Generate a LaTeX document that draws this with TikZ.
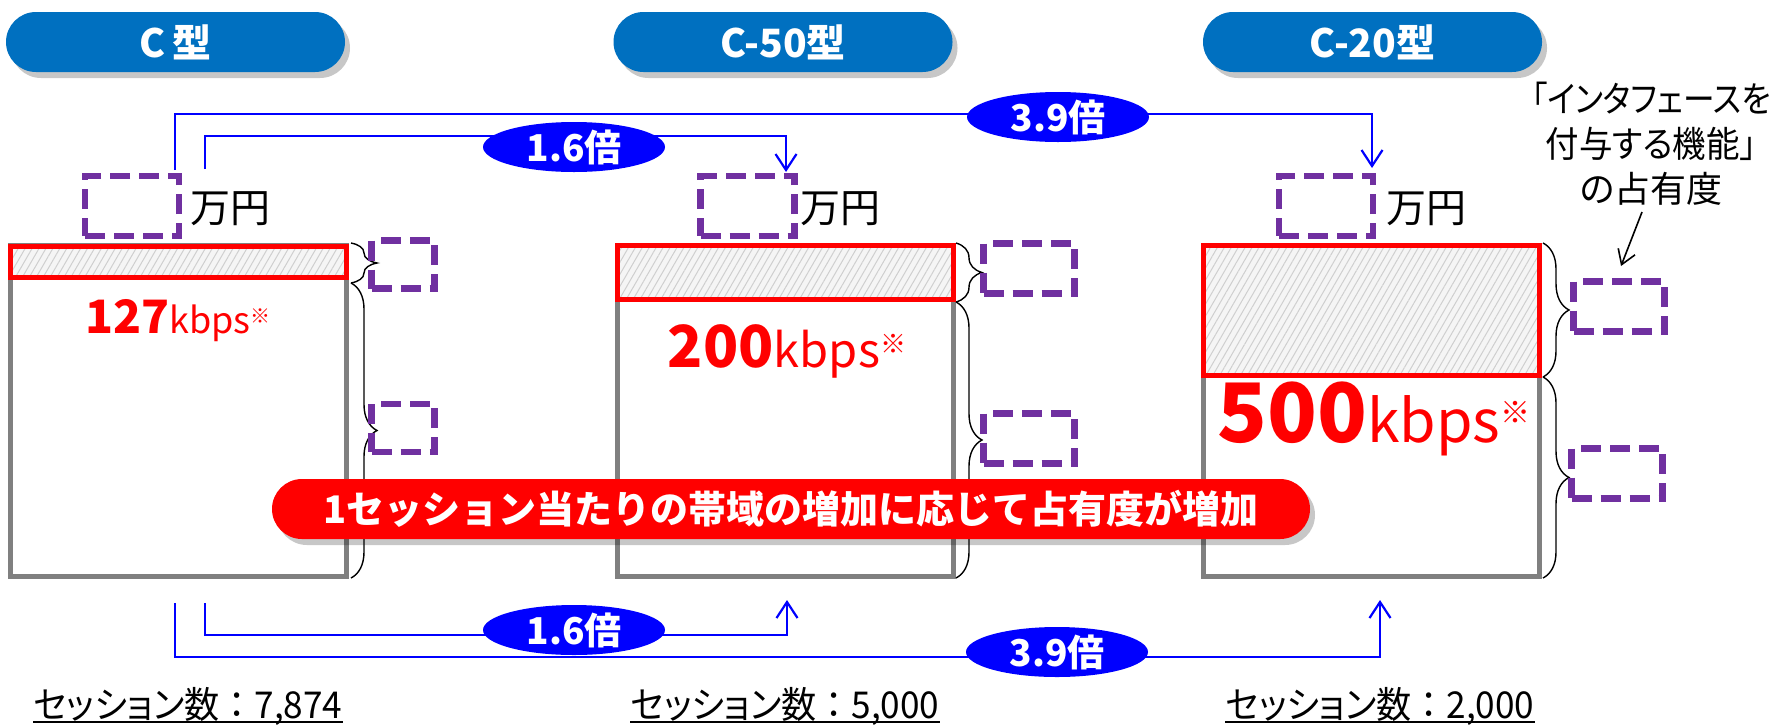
\documentclass[tikz,border=0pt]{standalone}
\usepackage{fontspec}
\setmainfont{Noto Sans CJK JP}
\newfontfamily\jpp{Noto Sans CJK JP}[RawFeature=+palt]
\usetikzlibrary{shapes.geometric,arrows.meta,patterns.meta,shadows,decorations.pathreplacing}
\definecolor{pillblue}{HTML}{0070C0}
\definecolor{pureblue}{HTML}{0000FF}
\definecolor{violetdash}{HTML}{7030A0}
\definecolor{boxgray}{HTML}{808080}
\definecolor{hatchbg}{HTML}{F5F5F5}
\definecolor{hatchline}{HTML}{CFCFCF}
\begin{document}
\begin{tikzpicture}[x=0.5pt,y=-0.5pt,
  pill/.style={fill=pillblue, rounded corners=15pt, minimum width=169.5pt, minimum height=30pt, inner sep=0pt, text=white, font=\bfseries\fontsize{19.5}{19.5}\selectfont, drop shadow={shadow xshift=2.5pt, shadow yshift=-3pt, fill=black, opacity=0.22}},
  frame/.style={draw=boxgray, line width=2.5pt, fill=white, inner sep=0pt, minimum width=168pt},
  occ/.style={draw=red, line width=2.5pt, preaction={fill=hatchbg}, pattern={Lines[angle=60,distance=3pt,line width=0.5pt]}, pattern color=hatchline, inner sep=0pt, minimum width=168pt},
  bracebar/.style={draw=black, line width=0.7pt, decorate, decoration={brace, amplitude=13pt}},
  pdash/.style={draw=violetdash, line width=3.2pt, dash pattern=on 10pt off 4.5pt, inner sep=0pt},
  ratio/.style={ellipse, fill=pureblue, text=white, font=\bfseries\fontsize{18.5}{18.5}\selectfont, minimum width=91pt, minimum height=25pt, inner sep=0pt},
  blueline/.style={draw=pureblue, line width=1.1pt},
  arr/.style={-{Straight Barb[length=8pt,width=10.5pt]}},
  yen/.style={anchor=base west, inner sep=0pt, font=\fontsize{20}{20}\selectfont},
  sess/.style={anchor=base west, inner sep=0pt, font=\fontsize{18.5}{18.5}\selectfont},
  banner/.style={fill=red, rounded corners=15pt, minimum width=519pt, minimum height=30pt, inner sep=0pt, text=white, font=\bfseries\fontsize{19}{19}\selectfont, drop shadow={shadow xshift=2.5pt, shadow yshift=-3pt, fill=black, opacity=0.22}},
  rate/.style={anchor=base, inner sep=0pt, text=red}
]
\useasboundingbox (0,0) rectangle (1770,724);
\fill[white] (0,0) rectangle (1770,724);

% title pills
\node[pill] (p1) at (175.5,42) {C\hspace{0.2em}型};
\node[pill] (p2) at (783,42) {C-50型};
\node[pill] (p3) at (1372.5,42) {C-20型};

% gray frames
\node[frame, minimum height=165.5pt] (f1) at (178.5,410.5) {};
\node[frame, minimum height=165.5pt] (f2) at (785,410.5) {};
\node[frame, minimum height=165.5pt] (f3) at (1371,410.5) {};

% occupancy rectangles
\node[occ, minimum height=15.5pt] (o1) at (178.5,261.5) {};
\node[occ, minimum height=27pt] (o2) at (785,272.5) {};
\node[occ, minimum height=65pt] (o3) at (1371,310.5) {};

% braces
\coordinate (b1a) at (351,243); \coordinate (b1b) at (351,283); \coordinate (b1c) at (351,578);
\coordinate (b2a) at (956,243); \coordinate (b2b) at (956,302); \coordinate (b2c) at (956,578);
\coordinate (b3a) at (1543,243); \coordinate (b3b) at (1543,377); \coordinate (b3c) at (1543,578);
\draw[bracebar] (b1a) -- (b1b);
\draw[bracebar] (b1b) -- (b1c);
\draw[bracebar] (b2a) -- (b2b);
\draw[bracebar] (b2b) -- (b2c);
\draw[bracebar] (b3a) -- (b3b);
\draw[bracebar] (b3b) -- (b3c);

% price boxes and yen
\node[pdash, minimum width=47pt, minimum height=30pt] (pr1) at (132,206) {};
\node[pdash, minimum width=47pt, minimum height=30pt] (pr2) at (747.5,206) {};
\node[pdash, minimum width=47pt, minimum height=30pt] (pr3) at (1326,206) {};
\node[yen] (y1) at (190,222) {万円};
\node[yen] (y2) at (800,222) {万円};
\node[yen] (y3) at (1386,222) {万円};

% small share boxes
\node[pdash, minimum width=31.5pt, minimum height=24pt] (s1a) at (403,264.5) {};
\node[pdash, minimum width=31.5pt, minimum height=24pt] (s1b) at (403,428) {};
\node[pdash, minimum width=45.5pt, minimum height=25pt] (s2a) at (1029,268.5) {};
\node[pdash, minimum width=45.5pt, minimum height=25pt] (s2b) at (1029,438.5) {};
\node[pdash, minimum width=45.5pt, minimum height=25pt] (s3a) at (1619,306.5) {};
\node[pdash, minimum width=45.5pt, minimum height=25pt] (s3b) at (1617,473.5) {};

% rates
\node[rate] (r1) at (178,333) {{\bfseries\fontsize{23}{23}\selectfont 127}{\fontsize{18}{18}\selectfont kbps}\raisebox{4.7pt}{\fontsize{10}{10}\selectfont ※}};
\node[rate] (r2) at (787,367) {{\bfseries\fontsize{29}{29}\selectfont 200}{\fontsize{23.5}{23.5}\selectfont kbps}\raisebox{7pt}{\fontsize{13}{13}\selectfont ※}};
\node[rate] (r3) at (1374,442) {{\bfseries\fontsize{41}{41}\selectfont 500}{\fontsize{29.5}{29.5}\selectfont kbps}\raisebox{9.3pt}{\fontsize{15}{15}\selectfont ※}};

% annotation
\node[align=center, anchor=north, inner sep=0pt, font=\jpp\fontsize{18}{22.5}\selectfont] (ann) at (1651,82) {\scalebox{0.88}[1]{「インタフェースを}\\\scalebox{0.93}[1]{付与する機能」}\\の占有度};
\coordinate (aa) at (1642,212);
\coordinate (ab) at (1621,266);
\draw[black, line width=0.8pt, -{Straight Barb[length=7pt,width=9pt]}] (aa) -- (ab);

% comparison connectors (top)
\coordinate (t1s) at (175,170); \coordinate (t1e) at (1372,168);
\coordinate (t2s) at (205,169); \coordinate (t2e) at (786,172);
\draw[blueline, arr] (t1s) -- ++(0,-56) -| (t1e);
\draw[blueline, arr] (t2s) -- ++(0,-33) -| (t2e);
\node[ratio] (e16t) at (574,147) {1.6倍};
\node[ratio] (e39t) at (1058,117) {3.9倍};

% comparison connectors (bottom)
\coordinate (u1s) at (175,603); \coordinate (u1e) at (1380,600);
\coordinate (u2s) at (205,603); \coordinate (u2e) at (787,600);
\draw[blueline, arr] (u1s) -- ++(0,54) -| (u1e);
\draw[blueline, arr] (u2s) -- ++(0,32) -| (u2e);
\node[ratio] (e16b) at (574,630) {1.6倍};
\node[ratio] (e39b) at (1057,652) {3.9倍};

% banner
\node[banner] (ban) at (791,509) {1セッション当たりの帯域の増加に応じて占有度が増加};

% session counts
\node[sess] (n1) at (33,718) {\scalebox{0.95}[1]{{\jpp セッション数}：7,874}};
\node[sess] (n2) at (630,718) {\scalebox{0.95}[1]{{\jpp セッション数}：5,000}};
\node[sess] (n3) at (1225,718) {\scalebox{0.95}[1]{{\jpp セッション数}：2,000}};
\draw[black, line width=1pt] ([yshift=-2pt]n1.base west) -- ([yshift=-2pt]n1.base east);
\draw[black, line width=1pt] ([yshift=-2pt]n2.base west) -- ([yshift=-2pt]n2.base east);
\draw[black, line width=1pt] ([yshift=-2pt]n3.base west) -- ([yshift=-2pt]n3.base east);
\end{tikzpicture}
\end{document}
